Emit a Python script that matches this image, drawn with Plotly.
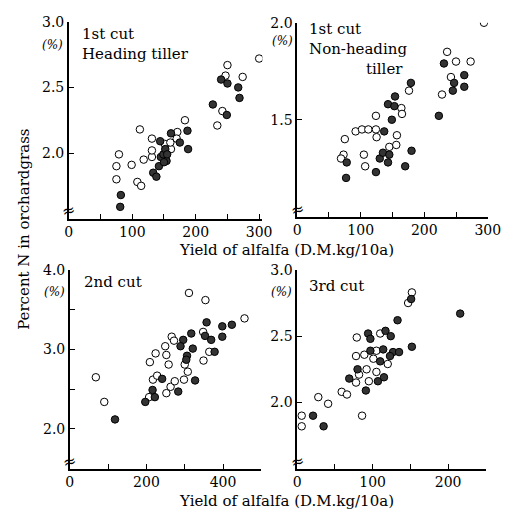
import plotly.graph_objects as go

# ---------------- data ----------------
p1_open_x = [75, 75, 79, 99, 108, 114, 112, 118, 131, 131, 131, 151, 161, 160, 171, 170, 183, 234, 242, 247, 250, 274, 300]
p1_open_y = [1.80, 1.90, 1.99, 1.91, 1.78, 1.75, 2.18, 1.95, 1.97, 2.02, 2.11, 2.07, 2.03, 2.08, 2.16, 2.11, 2.25, 2.21, 2.32, 2.59, 2.67, 2.58, 2.72]
p1_fill_x = [82, 81, 133, 138, 142, 144, 145, 149, 152, 154, 155, 150, 161, 175, 187, 188, 227, 240, 250, 249, 267, 269]
p1_fill_y = [1.68, 1.59, 1.85, 1.82, 1.90, 2.09, 1.97, 1.99, 2.03, 1.94, 1.99, 1.93, 2.15, 2.08, 2.17, 2.03, 2.37, 2.56, 2.53, 2.29, 2.50, 2.42]

p2_open_x = [294, 236, 250, 273, 242, 228, 176, 164, 165, 124, 92, 102, 112, 124, 125, 157, 145, 156, 75, 73, 69, 105, 107]
p2_open_y = [2.00, 1.85, 1.80, 1.80, 1.72, 1.63, 1.65, 1.56, 1.53, 1.52, 1.44, 1.45, 1.45, 1.45, 1.41, 1.42, 1.36, 1.37, 1.40, 1.32, 1.30, 1.32, 1.26]
p2_fill_x = [231, 247, 245, 263, 263, 223, 179, 154, 143, 153, 149, 137, 78, 77, 124, 130, 135, 145, 143, 170, 180]
p2_fill_y = [1.79, 1.69, 1.65, 1.73, 1.67, 1.52, 1.69, 1.62, 1.58, 1.57, 1.50, 1.44, 1.28, 1.20, 1.23, 1.30, 1.33, 1.32, 1.28, 1.26, 1.34]

p3_open_x = [68, 90, 311, 354, 456, 209, 224, 249, 266, 272, 252, 258, 217, 228, 207, 252, 263, 274, 298, 308, 300, 349, 364, 348]
p3_open_y = [2.65, 2.34, 3.71, 3.62, 3.39, 2.84, 2.95, 3.04, 3.16, 3.11, 2.93, 2.81, 2.62, 2.67, 2.40, 2.45, 2.53, 2.60, 2.62, 2.72, 2.81, 2.86, 2.97, 3.22]
p3_fill_x = [118, 197, 216, 222, 241, 283, 296, 289, 306, 304, 317, 321, 327, 357, 353, 369, 378, 398, 398, 423]
p3_fill_y = [2.12, 2.34, 2.49, 2.40, 2.63, 2.47, 3.12, 3.04, 2.92, 2.87, 3.20, 3.01, 2.61, 3.34, 3.17, 3.12, 2.97, 3.16, 3.29, 3.31]

p4_open_x = [152, 147, 6, 6, 28, 41, 59, 66, 79, 78, 89, 92, 95, 82, 78, 86, 110, 105, 101, 105, 120]
p4_open_y = [2.83, 2.75, 1.90, 1.82, 2.04, 1.99, 2.08, 2.06, 2.49, 2.35, 2.36, 2.25, 2.16, 2.21, 2.15, 1.90, 2.52, 2.39, 2.33, 2.23, 2.29]
p4_fill_x = [216, 133, 152, 94, 97, 117, 124, 97, 114, 127, 135, 123, 110, 80, 69, 91, 107, 115, 21, 35, 151]
p4_fill_y = [2.67, 2.62, 2.42, 2.52, 2.48, 2.54, 2.50, 2.39, 2.40, 2.38, 2.38, 2.35, 2.31, 2.25, 2.18, 2.09, 2.16, 2.19, 1.90, 1.82, 2.78]

panel_titles = ["1st cut<br>Heading tiller", "1st cut<br>Non-heading", "2nd cut", "3rd cut"]
x_title = "Yield of alfalfa (D.M.kg/10a)"
y_title = "Percent N in orchardgrass"

FONT = "DejaVu Serif"
W, H = 524, 515

def px(v):
    return v / W

def py(v):
    return (H - v) / H

fig = go.Figure()

panels = [
    (p1_open_x, p1_open_y, p1_fill_x, p1_fill_y),
    (p2_open_x, p2_open_y, p2_fill_x, p2_fill_y),
    (p3_open_x, p3_open_y, p3_fill_x, p3_fill_y),
    (p4_open_x, p4_open_y, p4_fill_x, p4_fill_y),
]
for i, (ox, oy, fx, fy) in enumerate(panels):
    suf = "" if i == 0 else str(i + 1)
    fig.add_trace(go.Scatter(x=ox, y=oy, mode="markers", xaxis="x" + suf, yaxis="y" + suf,
                             marker=dict(symbol="circle", size=7.5, color="white",
                                         line=dict(color="black", width=1)),
                             showlegend=False))
    fig.add_trace(go.Scatter(x=fx, y=fy, mode="markers", xaxis="x" + suf, yaxis="y" + suf,
                             marker=dict(symbol="circle", size=7.5, color="#333333",
                                         line=dict(color="black", width=1)),
                             showlegend=False))

def xax(dom, rng, vals, texts, anchor):
    return dict(domain=dom, range=rng, anchor=anchor, showline=True, linecolor="black",
                linewidth=1.5, ticks="inside", ticklen=5, tickwidth=1.2, tickcolor="black",
                tickvals=vals, ticktext=texts, showgrid=False, zeroline=False,
                tickfont=dict(family=FONT, size=14, color="black"))

def yax(dom, rng, vals, texts, anchor):
    return dict(domain=dom, range=rng, anchor=anchor, showline=True, linecolor="black",
                linewidth=1.5, ticks="inside", ticklen=5, tickwidth=1.2, tickcolor="black",
                tickvals=vals, ticktext=texts, showgrid=False, zeroline=False,
                tickfont=dict(family=FONT, size=14, color="black"))

x50 = [0, 50, 100, 150, 200, 250, 300]
x50t = ["0", "", "100", "", "200", "", "300"]

fig.update_layout(
    width=W, height=H, margin=dict(l=0, r=0, t=0, b=0),
    paper_bgcolor="white", plot_bgcolor="white",
    xaxis=xax([px(67), px(267)], [0, 305], x50, x50t, "y"),
    yaxis=yax([py(214), py(14)], [1.5, 3.0], [2.0, 2.5, 3.0], ["2.0", "2.5", "3.0"], "x"),
    xaxis2=xax([px(303), px(500)], [0, 300], x50, x50t, "y2"),
    yaxis2=yax([py(212), py(15)], [1.0, 2.0], [1.5, 2.0], ["1.5", "2.0"], "x2"),
    xaxis3=xax([px(68), px(266)], [0, 500], [0, 100, 200, 300, 400, 500], ["0", "", "200", "", "400", ""], "y3"),
    yaxis3=yax([py(468), py(266)], [1.5, 4.0], [2.0, 2.5, 3.0, 3.5, 4.0], ["2.0", "", "3.0", "", "4.0"], "x3"),
    xaxis4=xax([px(303), px(498)], [0, 250], [0, 50, 100, 150, 200, 250], ["0", "", "100", "", "200", ""], "y4"),
    yaxis4=yax([py(468), py(266)], [1.5, 3.0], [2.0, 2.5, 3.0], ["2.0", "2.5", "3.0"], "x4"),
)

ann = []
tf = dict(family=FONT, size=15, color="black")
# panel titles
ann.append(dict(x=px(79), y=py(15), xref="paper", yref="paper", text=panel_titles[0],
                showarrow=False, xanchor="left", yanchor="top", align="left", font=tf))
ann.append(dict(x=px(313), y=py(10), xref="paper", yref="paper", text=panel_titles[1],
                showarrow=False, xanchor="left", yanchor="top", align="left", font=tf))
ann.append(dict(x=px(372), y=py(51), xref="paper", yref="paper", text="tiller",
                showarrow=False, xanchor="left", yanchor="top", align="left", font=tf))
ann.append(dict(x=px(81), y=py(267), xref="paper", yref="paper", text=panel_titles[2],
                showarrow=False, xanchor="left", yanchor="top", align="left", font=tf))
ann.append(dict(x=px(313), y=py(271), xref="paper", yref="paper", text=panel_titles[3],
                showarrow=False, xanchor="left", yanchor="top", align="left", font=tf))
# (%) units
for (ux, uy) in [(50, 38), (288, 34), (52, 288), (287, 288)]:
    ann.append(dict(x=px(ux), y=py(uy), xref="paper", yref="paper", text="<i>(%)</i>",
                    showarrow=False, xanchor="center", yanchor="middle",
                    font=dict(family=FONT, size=12, color="black")))
# axis titles
ann.append(dict(x=px(292), y=py(246), xref="paper", yref="paper", text=x_title,
                showarrow=False, xanchor="center", yanchor="middle", font=tf))
ann.append(dict(x=px(292), y=py(501), xref="paper", yref="paper", text=x_title,
                showarrow=False, xanchor="center", yanchor="middle", font=tf))
ann.append(dict(x=px(20), y=py(225), xref="paper", yref="paper", text=y_title,
                showarrow=False, xanchor="center", yanchor="middle", textangle=-90, font=tf))
# axis break marks
for (bx, by) in [(67, 206), (303, 205), (68, 461), (303, 461)]:
    ann.append(dict(x=px(bx), y=py(by), xref="paper", yref="paper", text="≈",
                    showarrow=False, xanchor="center", yanchor="middle", textangle=-15,
                    font=dict(family=FONT, size=16, color="black")))
fig.update_layout(annotations=ann)

fig.write_html("out.html")
